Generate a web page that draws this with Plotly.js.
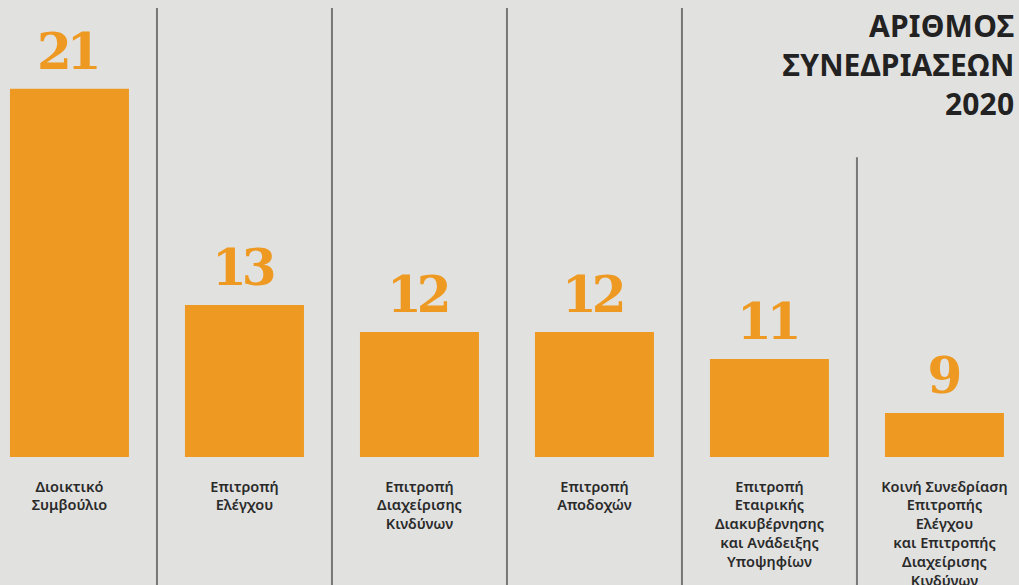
<!DOCTYPE html>
<html>
<head>
<meta charset="utf-8">
<script src="https://cdn.plot.ly/plotly-3.0.1.min.js"></script>
<style>
html,body{margin:0;padding:0;background:#E1E1E0;}
#chart{width:1019px;height:585px;}
#chart .annotation[data-index="0"] text,
#chart .annotation[data-index="1"] text,
#chart .annotation[data-index="2"] text,
#chart .annotation[data-index="3"] text,
#chart .annotation[data-index="4"] text,
#chart .annotation[data-index="5"] text { letter-spacing: -5px; }
#chart .annotation[data-index="6"] text { letter-spacing: 0.2px; }
</style>
</head>
<body>
<div id="chart"></div>
<script>
const categories = [
  "Διοικτικό<br>Συμβούλιο",
  "Επιτροπή<br>Ελέγχου",
  "Επιτροπή<br>Διαχείρισης<br>Κινδύνων",
  "Επιτροπή<br>Αποδοχών",
  "Επιτροπή<br>Εταιρικής<br>Διακυβέρνησης<br>και Ανάδειξης<br>Υποψηφίων",
  "Κοινή Συνεδρίαση<br>Επιτροπής<br>Ελέγχου<br>και Επιτροπής<br>Διαχείρισης<br>Κινδύνων"
];
const meetings = [21, 13, 12, 12, 11, 9];
const titleLines = ["ΑΡΙΘΜΟΣ", "ΣΥΝΕΔΡΙΑΣΕΩΝ", "2020"];

const orange = "#EE9A22";
const idx = categories.map((_, i) => i);

const trace = {
  type: "bar",
  x: idx,
  y: meetings,
  marker: {color: orange, line: {width: 0}},
  width: 0.68,
  hoverinfo: "skip"
};

const annotations = meetings.map((v, i) => ({
  x: i, y: v, xref: "x", yref: "y",
  text: String(v),
  showarrow: false,
  yanchor: "bottom",
  yshift: 6,
  xshift: -2,
  font: {family: "DejaVu Serif", size: 50, color: orange, weight: 900}
}));

annotations.push({
  xref: "paper", yref: "paper",
  x: 0.997, y: 0.993,
  xanchor: "right", yanchor: "top",
  align: "right",
  showarrow: false,
  text: "<b>" + titleLines.join("<br>") + "</b>",
  font: {family: "Noto Sans, sans-serif", size: 30, color: "#222222"}
});

const sepTop = [0.9825, 0.9825, 0.9825, 0.9825, 0.656];
const shapes = sepTop.map((t, i) => ({
  type: "line", xref: "x", yref: "paper",
  x0: i + 0.5, x1: i + 0.5, y0: -0.3, y1: t,
  line: {color: "#777777", width: 2}
}));

const layout = {
  width: 1019, height: 585,
  paper_bgcolor: "#E1E1E0",
  plot_bgcolor: "#E1E1E0",
  margin: {l: 0, r: 0, t: 0, b: 128, pad: 0},
  showlegend: false,
  hovermode: false,
  xaxis: {
    range: [-0.397, 5.426],
    tickmode: "array",
    tickvals: idx,
    ticktext: categories,
    showgrid: false, zeroline: false, showline: false, ticks: "",
    ticklabelstandoff: 19,
    tickfont: {family: "Noto Sans, sans-serif", size: 14.5, color: "#2a2a2a", weight: 600},
    fixedrange: true
  },
  yaxis: {
    range: [7.37, 24.29],
    visible: false,
    showgrid: false, zeroline: false,
    fixedrange: true
  },
  annotations: annotations,
  shapes: shapes
};

Plotly.newPlot("chart", [trace], layout, {displayModeBar: false, staticPlot: true});
</script>
</body>
</html>
